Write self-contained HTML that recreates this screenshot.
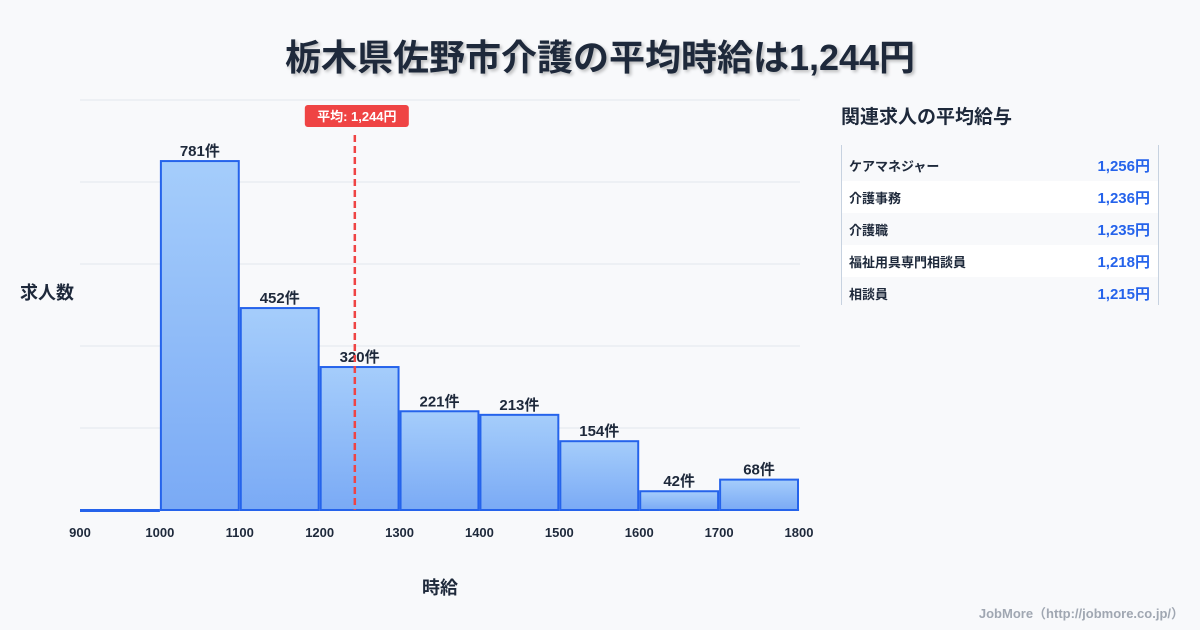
<!DOCTYPE html>
<html><head><meta charset="utf-8">
<style>
body{margin:0;background:#f8f9fb;font-family:"Liberation Sans","Noto Sans CJK JP",sans-serif;}
#wrap{position:relative;width:1200px;height:630px;overflow:hidden;background:#f8f9fb;}
.title{position:absolute;top:29px;left:0;width:1200px;text-align:center;font-size:36px;font-weight:bold;color:#1e293b;text-shadow:2px 2px 3px rgba(0,0,0,0.25);}
.panel-title{position:absolute;left:841px;top:102px;font-size:19px;font-weight:bold;color:#1e293b;}
.panel{position:absolute;left:841px;top:145px;width:318px;height:160px;padding-top:4px;box-sizing:border-box;border-left:1px solid #c7d2e0;border-right:1px solid #c7d2e0;}
.row{height:32px;display:flex;justify-content:space-between;align-items:center;padding:0 8px 0 7px;font-size:13px;font-weight:bold;color:#1e293b;}
.row:nth-child(even){background:#fff;}
.row .v{color:#2563eb;font-size:15px;}
.footer{position:absolute;right:16px;top:603px;font-size:13px;font-weight:bold;color:#a0a7b2;}
</style></head><body>
<div id="wrap">
<div class="title">栃木県佐野市介護の平均時給は1,244円</div>
<svg id="chart" width="1200" height="630" style="position:absolute;left:0;top:0">
<defs><linearGradient id="g" x1="0" y1="0" x2="0" y2="1"><stop offset="0" stop-color="#a5cdfb"/><stop offset="1" stop-color="#7aaaf5"/></linearGradient></defs>
</svg>
<div class="panel-title">関連求人の平均給与</div>
<div class="panel">
<div class="row"><span>ケアマネジャー</span><span class="v">1,256円</span></div>
<div class="row"><span>介護事務</span><span class="v">1,236円</span></div>
<div class="row"><span>介護職</span><span class="v">1,235円</span></div>
<div class="row"><span>福祉用具専門相談員</span><span class="v">1,218円</span></div>
<div class="row"><span>相談員</span><span class="v">1,215円</span></div>
</div>
<div class="footer">JobMore（http://jobmore.co.jp/）</div>
</div>
<script>
const binStarts=[900,1000,1100,1200,1300,1400,1500,1600,1700];
const counts=[0,781,452,320,221,213,154,42,68];
const xTicks=[900,1000,1100,1200,1300,1400,1500,1600,1700,1800];
const average=1244;
const svg=document.getElementById('chart');
const NS='http://www.w3.org/2000/svg';
const x0=80,x1=799,yBase=510,yTop=100;
const yMax=Math.max(...counts)*1.175;
const xs=v=>x0+(v-900)/(1800-900)*(x1-x0);
const ys=v=>yBase-v/yMax*(yBase-yTop);
function mk(t,a){const e=document.createElementNS(NS,t);for(const k in a)e.setAttribute(k,a[k]);svg.appendChild(e);return e;}
for(let i=0;i<=5;i++){const y=yBase-i*(yBase-yTop)/5;
const l=mk('line',{x1:x0,x2:x1+1,y1:y,y2:y,stroke:'#e2e6ec','stroke-width':1});

}
binStarts.forEach((b,i)=>{
const xa=xs(b)+1,xb=xs(b+100)-1,yt=ys(counts[i]);
const r=mk('rect',{x:xa,y:yt,width:xb-xa,height:Math.max(yBase-yt,1),fill:'url(#g)',stroke:'#2563eb','stroke-width':2});


if(counts[i]>0){const t=mk('text',{x:(xa+xb)/2,y:yt-5,'text-anchor':'middle','font-size':15,'font-weight':'bold',fill:'#1e293b'});t.textContent=counts[i]+'件';

}
});
xTicks.forEach(v=>{const t=mk('text',{x:xs(v),y:537,'text-anchor':'middle','font-size':13,'font-weight':'bold',fill:'#1e293b'});t.textContent=v;

});
const ax=xs(average);
const al=mk('line',{x1:ax,x2:ax,y1:135,y2:510,stroke:'#ef4444','stroke-width':2.5,'stroke-dasharray':'7,4'});


const ar=mk('rect',{x:ax-50,y:105,width:104,height:22,rx:3,fill:'#ef4444'});


const at=mk('text',{x:ax+2,y:121,'text-anchor':'middle','font-size':13,'font-weight':'bold',fill:'#fff'});at.textContent='平均: 1,244円';


const yt=mk('text',{x:20,y:299,'font-size':18,'font-weight':'bold',fill:'#1e293b'});yt.textContent='求人数';


const xt=mk('text',{x:440,y:594,'text-anchor':'middle','font-size':18,'font-weight':'bold',fill:'#1e293b'});xt.textContent='時給';


</script>
</body></html>
